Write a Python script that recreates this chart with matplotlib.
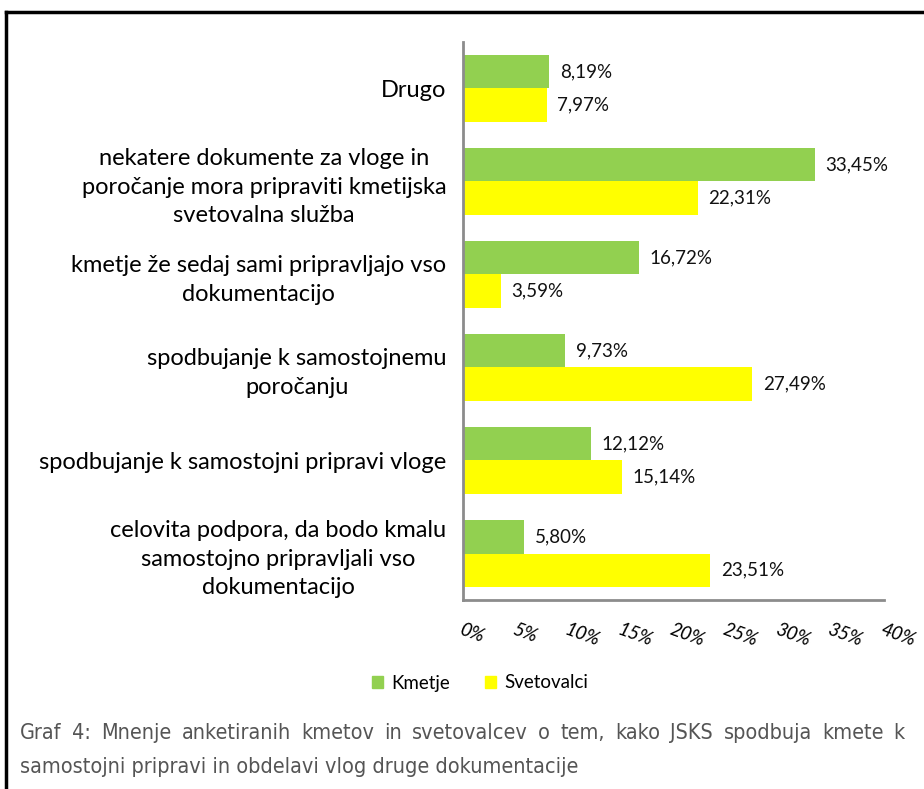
import matplotlib
matplotlib.use("Agg")
import matplotlib.pyplot as plt
from matplotlib.patches import Rectangle
from matplotlib.lines import Line2D
from matplotlib import font_manager
import numpy as np

categories = [
    "Drugo",
    "nekatere dokumente za vloge in\nporočanje mora pripraviti kmetijska\nsvetovalna služba",
    "kmetje že sedaj sami pripravljajo vso\ndokumentacijo",
    "spodbujanje k samostojnemu\nporočanju",
    "spodbujanje k samostojni pripravi vloge",
    "celovita podpora, da bodo kmalu\nsamostojno pripravljali vso\ndokumentacijo",
]
kmetje = [8.19, 33.45, 16.72, 9.73, 12.12, 5.80]
svetovalci = [7.97, 22.31, 3.59, 27.49, 15.14, 23.51]
series_names = ["Kmetje", "Svetovalci"]
xticks = [0, 5, 10, 15, 20, 25, 30, 35, 40]
caption_line1 = "Graf 4: Mnenje anketiranih kmetov in svetovalcev o tem, kako JSKS spodbuja kmete k"
caption_line2 = "samostojni pripravi in obdelavi vlog druge dokumentacije"

GREEN = "#92D050"
YELLOW = "#FFFF00"
W, H = 924, 789
fig = plt.figure(figsize=(W / 100, H / 100), dpi=100)
fig.patch.set_facecolor("white")

names = {f.name for f in font_manager.fontManager.ttflist}
narrow = None
for cand in ["Liberation Sans Narrow", "Arial Narrow", "DejaVu Sans Condensed"]:
    if cand in names:
        narrow = cand
        break

font = "Lato"
ax = fig.add_axes([463 / W, 1 - 600 / H, (884 - 463) / W, (600 - 42) / H])
n = len(categories)
y = np.arange(n)
bh = 0.355
ax.barh(y - bh / 2, kmetje, height=bh, color=GREEN, label=series_names[0])
ax.barh(y + bh / 2, svetovalci, height=bh, color=YELLOW, label=series_names[1])
ax.set_ylim(n - 0.5, -0.5)
ax.set_xlim(0, 40)
for i in range(n):
    ax.text(kmetje[i] + 1.0, y[i] - bh / 2, f"{kmetje[i]:.2f}%".replace(".", ","),
            va="center", ha="left", fontsize=13.5, family=font, color="#111111")
    ax.text(svetovalci[i] + 1.0, y[i] + bh / 2, f"{svetovalci[i]:.2f}%".replace(".", ","),
            va="center", ha="left", fontsize=13.5, family=font, color="#111111")

for s in ["top", "right"]:
    ax.spines[s].set_visible(False)
for s in ["left", "bottom"]:
    ax.spines[s].set_color("#8c8c8c")
    ax.spines[s].set_linewidth(2)
ax.set_yticks(y)
ax.set_yticklabels(categories, fontsize=17, family=font, multialignment="center",
                   linespacing=1.45)
ax.tick_params(axis="y", length=0, pad=12)
ax.set_xticks(xticks)
ax.set_xticklabels([f"{t}%" for t in xticks], fontsize=13.5, family=font, style="italic",
                   rotation=-20, rotation_mode="anchor", ha="left", va="top")
ax.tick_params(axis="x", length=0, pad=15)

# legend
handles = [Rectangle((0, 0), 1, 1, color=GREEN), Rectangle((0, 0), 1, 1, color=YELLOW)]
fig.legend(handles, series_names, loc="center", bbox_to_anchor=(480 / W, 1 - 683 / H),
           ncol=2, frameon=False, prop={"family": font, "size": 13.5},
           handlelength=0.6, handleheight=0.6, handletextpad=0.4, columnspacing=1.9)

# frame
fig.add_artist(Line2D([6 / W, 6 / W], [0, 1 - 12 / H], transform=fig.transFigure, color="black", lw=2.5))
fig.add_artist(Line2D([6 / W, 1], [1 - 12 / H, 1 - 12 / H], transform=fig.transFigure, color="black", lw=2.5))

# caption (justified first line)
if narrow:
    cap_font = dict(family=[narrow, "Liberation Sans"], fontsize=17.5, color="#555555")
else:
    cap_font = dict(family=["DejaVu Sans"], stretch="condensed", fontsize=15.5, color="#555555")
fig.canvas.draw()
renderer = fig.canvas.get_renderer()
x0, x1 = 20, 905
words = caption_line1.split(" ")
texts = [fig.text(0, 0, w_, **cap_font) for w_ in words]
widths = [t.get_window_extent(renderer).width for t in texts]
gap = (x1 - x0 - sum(widths)) / (len(words) - 1)
xpos = x0
for t, wd in zip(texts, widths):
    t.set_position((xpos / W, 1 - 733 / H))
    t.set_va("center")
    xpos += wd + gap
fig.text(x0 / W, 1 - 767 / H, caption_line2, va="center", **cap_font)

fig.savefig("out.png", dpi=100)
